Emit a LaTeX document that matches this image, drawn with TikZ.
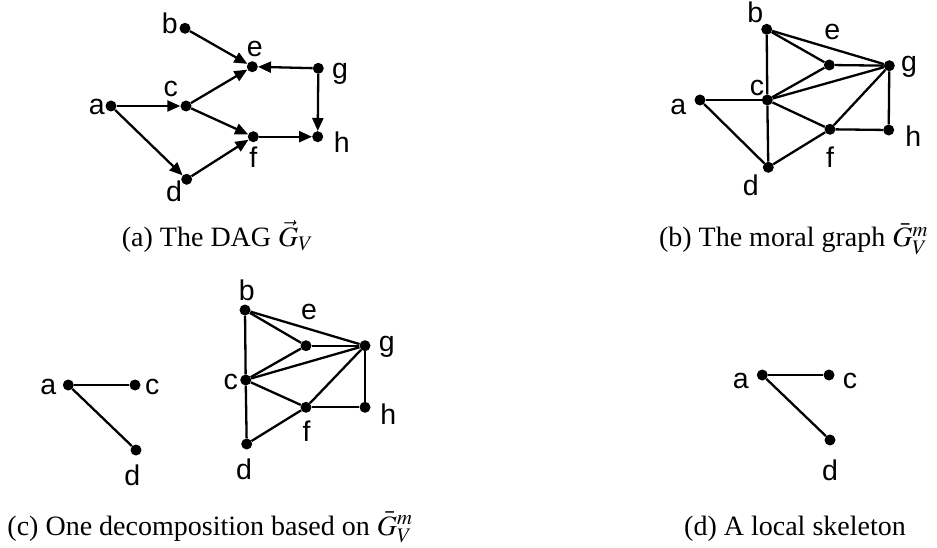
\documentclass[tikz,border=0pt]{standalone}
\usepackage{mathptmx}
\usepackage{fontspec}
\setmainfont{Liberation Serif}
\newfontfamily\labfont{Liberation Sans}
\usetikzlibrary{arrows.meta}
\begin{document}
\begin{tikzpicture}[x=1pt,y=-1pt,
  vtx/.style={circle,fill=black,inner sep=0pt,minimum size=11pt},
  lab/.style={inner sep=0pt,font=\labfont\fontsize{28.5}{30}\selectfont},
  captxt/.style={inner sep=0pt,anchor=base,font=\fontsize{28}{32}\selectfont},
  ln/.style={line width=2.3pt},
  arr/.style={line width=2.3pt,-{Triangle[length=13pt,width=11pt]}}]
\useasboundingbox[fill=white] (0,0) rectangle (937,548);

% ---------- (a) DAG ----------
\node[vtx] (Ab) at (185,28.3) {};
\node[vtx] (Ae) at (252.3,66.7) {};
\node[vtx] (Ag) at (318.3,68.3) {};
\node[vtx] (Aa) at (111,106) {};
\node[vtx] (Ac) at (186,106) {};
\node[vtx] (Af) at (253.3,136.7) {};
\node[vtx] (Ah) at (317.7,136.7) {};
\node[vtx] (Ad) at (186.7,179.3) {};
\node[lab] (Lab) at (169.7,23.3) {b};
\node[lab] (Lae) at (254.7,49) {e};
\node[lab] (Lag) at (340,74) {g};
\node[lab] (Laa) at (96.7,107.3) {a};
\node[lab] (Lac) at (170.7,89) {c};
\node[lab] (Laf) at (253.3,157) {f};
\node[lab] (Lah) at (341.7,142.3) {h};
\node[lab] (Lad) at (174,191.7) {d};
\draw[arr] (Ab) -- (Ae);
\draw[arr] (Ag) -- (Ae);
\draw[arr] (Ac) -- (Ae);
\draw[arr] (Aa) -- (Ac);
\draw[arr] (Aa) -- (Ad);
\draw[arr] (Ac) -- (Af);
\draw[arr] (Ad) -- (Af);
\draw[arr] (Af) -- (Ah);
\draw[arr] (Ag) -- (Ah);
\node[captxt] (capA) at (217.5,246.5) {(a) The DAG $\vec{G}_V$};

% ---------- (b) moral graph ----------
\node[vtx] (Bb) at (766.7,29.3) {};
\node[vtx] (Be) at (829.3,65) {};
\node[vtx] (Bg) at (889.3,65.7) {};
\node[vtx] (Ba) at (700,100) {};
\node[vtx] (Bc) at (767.3,100) {};
\node[vtx] (Bf) at (830,129.3) {};
\node[vtx] (Bh) at (888.7,130) {};
\node[vtx] (Bd) at (768.3,167.3) {};
\node[lab] (Lbb) at (755.3,12.8) {b};
\node[lab] (Lbe) at (832.3,32.3) {e};
\node[lab] (Lbg) at (909,66.7) {g};
\node[lab] (Lba) at (678.3,106.7) {a};
\node[lab] (Lbc) at (757,88.3) {c};
\node[lab] (Lbf) at (830,157.3) {f};
\node[lab] (Lbh) at (913.3,135.7) {h};
\node[lab] (Lbd) at (750.7,185.7) {d};
\draw[ln] (Bb) -- (Bc);
\draw[ln] (Bb) -- (Be);
\draw[ln] (Bb) -- (Bg);
\draw[ln] (Be) -- (Bg);
\draw[ln] (Bc) -- (Be);
\draw[ln] (Bc) -- (Bg);
\draw[ln] (Ba) -- (Bc);
\draw[ln] (Ba) -- (Bd);
\draw[ln] (Bc) -- (Bf);
\draw[ln] (Bc) -- (Bd);
\draw[ln] (Bd) -- (Bf);
\draw[ln] (Bf) -- (Bg);
\draw[ln] (Bf) -- (Bh);
\draw[ln] (Bg) -- (Bh);
\node[captxt] (capB) at (793.5,246.5) {(b) The moral graph $\bar{G}_V^m$};

% ---------- (c) decomposition ----------
\node[vtx] (Ca) at (68.3,385) {};
\node[vtx] (Cc) at (135,385) {};
\node[vtx] (Cd) at (136,450) {};
\node[lab] (Lca) at (48.3,386.7) {a};
\node[lab] (Lcc) at (152.3,386.7) {c};
\node[lab] (Lcd) at (132.3,475) {d};
\draw[ln] (Ca) -- (Cc);
\draw[ln] (Ca) -- (Cd);

\node[vtx] (Db) at (245,310) {};
\node[vtx] (De) at (306,345.7) {};
\node[vtx] (Dg) at (365,345.7) {};
\node[vtx] (Dc) at (245.7,380) {};
\node[vtx] (Df) at (306,407.3) {};
\node[vtx] (Dh) at (365,407.3) {};
\node[vtx] (Dd) at (246.7,444) {};
\node[lab] (Ldb) at (246.7,290.7) {b};
\node[lab] (Lde) at (309,311.7) {e};
\node[lab] (Ldg) at (386.7,347.3) {g};
\node[lab] (Ldc) at (230.7,381.7) {c};
\node[lab] (Ldf) at (306.7,430.7) {f};
\node[lab] (Ldh) at (388.3,414) {h};
\node[lab] (Ldd) at (244,469) {d};
\draw[ln] (Db) -- (Dc);
\draw[ln] (Db) -- (De);
\draw[ln] (Db) -- (Dg);
\draw[ln] (De) -- (Dg);
\draw[ln] (Dc) -- (De);
\draw[ln] (Dc) -- (Dg);
\draw[ln] (Dc) -- (Df);
\draw[ln] (Dc) -- (Dd);
\draw[ln] (Dd) -- (Df);
\draw[ln] (Df) -- (Dg);
\draw[ln] (Df) -- (Dh);
\draw[ln] (Dg) -- (Dh);
\node[captxt] (capC) at (210,535) {(c) One decomposition based on $\bar{G}_V^m$};

% ---------- (d) local skeleton ----------
\node[vtx] (Ea) at (762.3,375) {};
\node[vtx] (Ec) at (829,375) {};
\node[vtx] (Ed) at (830,440) {};
\node[lab] (Lea) at (740.7,380.7) {a};
\node[lab] (Lec) at (850,380.7) {c};
\node[lab] (Led) at (830,470.7) {d};
\draw[ln] (Ea) -- (Ec);
\draw[ln] (Ea) -- (Ed);
\node[captxt] (capD) at (795,535) {(d) A local skeleton};
\end{tikzpicture}
\end{document}
